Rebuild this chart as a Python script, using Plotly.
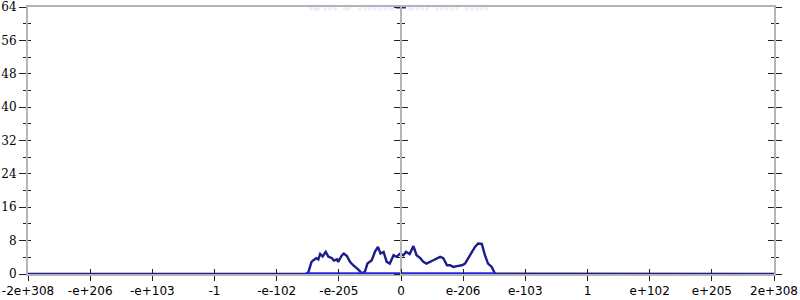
import plotly.graph_objects as go

# x positions are in axis-tick units (tick i <-> tick_labels[i+6])
tick_pos = [-6, -5, -4, -3, -2, -1, 0, 1, 2, 3, 4, 5, 6]
tick_labels = ["-2e+308", "-e+206", "-e+103", "-1", "-e-102", "-e-205", "0",
               "e-206", "e-103", "1", "e+102", "e+205", "2e+308"]
y_ticks = [0, 8, 16, 24, 32, 40, 48, 56, 64]

hist_x = [-6, -1.53, -1.49, -1.44, -1.40, -1.36, -1.33, -1.30, -1.26, -1.23, -1.21,
          -1.17, -1.11, -1.08, -1.03, -1.01, -0.95, -0.92, -0.87, -0.82, -0.77,
          -0.69, -0.63, -0.58, -0.54, -0.47, -0.42, -0.37, -0.33, -0.28, -0.23,
          -0.18, -0.12, -0.07, -0.02, 0.04, 0.08, 0.14, 0.20, 0.25, 0.31, 0.36,
          0.41, 0.52, 0.63, 0.68, 0.74, 0.79, 0.84, 0.90, 0.98, 1.03, 1.11,
          1.19, 1.24, 1.30, 1.35, 1.40, 1.46, 1.51, 6]
hist_y = [0, 0, 0.4, 2.9, 3.4, 3.8, 3.5, 4.8, 4.2, 5.0, 5.3,
          4.2, 3.8, 3.2, 3.5, 2.9, 4.5, 4.9, 4.3, 2.9, 2.1,
          1.1, 0.15, 0.55, 2.5, 3.3, 5.3, 6.5, 4.9, 5.3, 2.9,
          2.5, 4.5, 4.1, 4.8, 4.5, 5.3, 4.8, 6.7, 4.5, 3.8, 2.9,
          2.5, 3.3, 4.1, 3.8, 2.1, 2.1, 1.7, 1.9, 2.1, 2.5, 4.5,
          6.5, 7.3, 7.2, 4.5, 2.5, 1.7, 0.1, 0]

# sample rug (individual values), drawn very faint along the top
rug_x = [-1.45, -1.38, -1.33, -1.22, -1.14, -1.06, -0.90, -0.84,
         -0.66, -0.58, -0.50, -0.42, -0.34, -0.26, -0.18, -0.13,
         0.13, 0.18, 0.26, 0.34, 0.42, 0.58, 0.66, 0.74, 0.82,
         0.90, 1.06, 1.14, 1.22, 1.30, 1.38]
rug_top = [63.6] * len(rug_x)
dense_x = [-0.08, 0.08]
dense_top = [64, 64]
dense_bottom_x = [-1.53, 1.50]
dense_bottom = [0, 0]

NAVY = "#1c1c8a"
BLUE = "#2424e8"

fig = go.Figure()
fig.add_trace(go.Scatter(x=hist_x, y=hist_y, mode="lines",
                         line=dict(color=NAVY, width=2.4), cliponaxis=False))
fig.add_trace(go.Scatter(x=rug_x, y=rug_top, mode="markers",
                         marker=dict(color="rgba(90,90,255,0.10)", size=4, line=dict(width=0)),
                         cliponaxis=False))
fig.add_trace(go.Scatter(x=dense_bottom_x, y=dense_bottom, mode="lines",
                         line=dict(color=BLUE, width=3.5), cliponaxis=False))
fig.add_trace(go.Scatter(x=dense_x, y=dense_top, mode="lines",
                         line=dict(color="#2a2a5a", width=3), cliponaxis=False))

AX = "#b4b4b4"
TK = "#222222"
base_y = dict(range=[0, 64], showgrid=False, zeroline=False, fixedrange=True,
              automargin=False)

fig.update_layout(
    template="none",
    width=800, height=300,
    margin=dict(l=28, r=26, t=7, b=26, autoexpand=False),
    paper_bgcolor="white", plot_bgcolor="white",
    showlegend=False,
    xaxis=dict(range=[-6, 6], tickvals=tick_pos, ticktext=tick_labels,
               ticks="outside", ticklen=5, tickcolor=TK, tickwidth=1,
               showline=True, mirror=True, linecolor=AX, linewidth=2,
               showgrid=False, zeroline=False, automargin=False,
               layer="below traces",
               tickfont=dict(family="DejaVu Sans", size=12, color="#000")),
    xaxis2=dict(range=[-6, 6], overlaying="x", anchor="y", tickvals=tick_pos,
                ticks="inside", ticklen=5, tickcolor=TK, showticklabels=False,
                showline=False, showgrid=False, zeroline=False, automargin=False),
    yaxis=dict(**base_y, tickvals=y_ticks, ticks="outside", ticklen=7,
               tickcolor=TK, showline=True, linecolor=AX, linewidth=2,
               minor=dict(dtick=4, ticks="outside", ticklen=3, tickcolor=TK),
               tickfont=dict(family="DejaVu Serif", size=12, color="#000")),
    yaxis2=dict(**base_y, overlaying="y", side="left", tickvals=y_ticks,
                ticks="inside", ticklen=3, tickcolor=TK, showticklabels=False,
                minor=dict(dtick=4, ticks="inside", ticklen=3, tickcolor=TK)),
    yaxis3=dict(**base_y, overlaying="y", side="right", anchor="x", tickvals=y_ticks,
                ticks="outside", ticklen=6, tickcolor=TK, showticklabels=False,
                showline=True, linecolor=AX, linewidth=2,
                minor=dict(dtick=4, ticks="outside", ticklen=3, tickcolor=TK)),
    yaxis4=dict(**base_y, overlaying="y", side="right", anchor="x", tickvals=y_ticks,
                ticks="inside", ticklen=6, tickcolor=TK, showticklabels=False,
                minor=dict(dtick=4, ticks="inside", ticklen=3, tickcolor=TK)),
    yaxis5=dict(**base_y, overlaying="y", anchor="free", position=0.5, side="left",
                tickvals=y_ticks, ticks="outside", ticklen=6, tickcolor=TK,
                showticklabels=False, showline=True, linecolor=AX, linewidth=2,
                minor=dict(dtick=4, ticks="outside", ticklen=3, tickcolor=TK)),
    yaxis6=dict(**base_y, overlaying="y", anchor="free", position=0.5, side="left",
                tickvals=y_ticks, ticks="inside", ticklen=6, tickcolor=TK,
                showticklabels=False,
                minor=dict(dtick=4, ticks="inside", ticklen=3, tickcolor=TK)),
)

# invisible anchor traces so every overlay axis is drawn
for ax in ["y2", "y3", "y4", "y5", "y6"]:
    fig.add_trace(go.Scatter(x=[None], y=[None], yaxis=ax, showlegend=False, hoverinfo="skip"))
fig.add_trace(go.Scatter(x=[None], y=[None], xaxis="x2", showlegend=False, hoverinfo="skip"))

fig.write_html("out.html")
